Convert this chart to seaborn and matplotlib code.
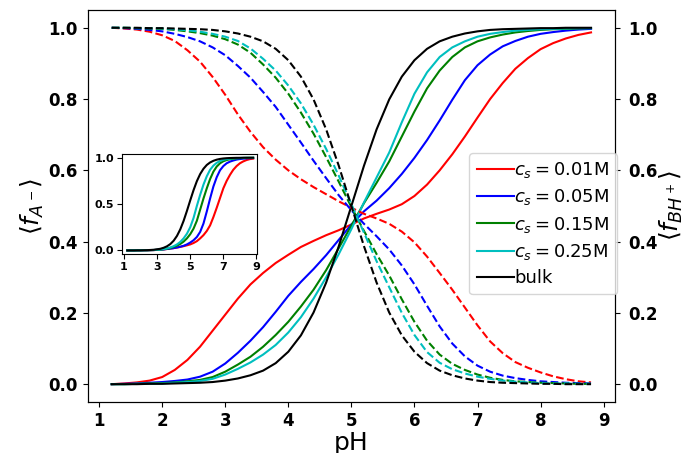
import matplotlib
matplotlib.use("Agg")
import matplotlib.pyplot as plt
import seaborn as sns

# pH grid shared by all series (1.2 ... 8.8, step 0.2)
ph = [1.2, 1.4, 1.6, 1.8, 2.0, 2.2, 2.4, 2.6, 2.8, 3.0,
      3.2, 3.4, 3.6, 3.8, 4.0, 4.2, 4.4, 4.6, 4.8, 5.0,
      5.2, 5.4, 5.6, 5.8, 6.0, 6.2, 6.4, 6.6, 6.8, 7.0,
      7.2, 7.4, 7.6, 7.8, 8.0, 8.2, 8.4, 8.6, 8.8]

labels = [r"$c_s=0.01$M", r"$c_s=0.05$M", r"$c_s=0.15$M", r"$c_s=0.25$M", "bulk"]
colors = ["r", "b", "g", "c", "k"]

# <f_A-> (solid, left axis)
fa_001 = [0.000, 0.002, 0.005, 0.010, 0.020, 0.040, 0.068, 0.105, 0.150, 0.195,
          0.240, 0.280, 0.312, 0.340, 0.363, 0.385, 0.402, 0.418, 0.432, 0.448,
          0.465, 0.478, 0.490, 0.505, 0.528, 0.560, 0.600, 0.645, 0.695, 0.748,
          0.800, 0.845, 0.885, 0.915, 0.940, 0.957, 0.970, 0.980, 0.987]
fa_005 = [0.000, 0.001, 0.002, 0.004, 0.006, 0.009, 0.013, 0.021, 0.035, 0.058,
          0.088, 0.122, 0.160, 0.203, 0.248, 0.287, 0.323, 0.362, 0.405, 0.448,
          0.485, 0.515, 0.550, 0.590, 0.635, 0.685, 0.740, 0.798, 0.853, 0.895,
          0.925, 0.948, 0.963, 0.975, 0.983, 0.988, 0.992, 0.995, 0.997]
fa_015 = [0.000, 0.000, 0.001, 0.002, 0.003, 0.005, 0.008, 0.012, 0.020, 0.035,
          0.055, 0.077, 0.105, 0.138, 0.175, 0.218, 0.265, 0.320, 0.382, 0.445,
          0.508, 0.565, 0.625, 0.695, 0.765, 0.830, 0.880, 0.918, 0.945, 0.962,
          0.973, 0.981, 0.987, 0.991, 0.994, 0.996, 0.997, 0.998, 0.999]
fa_025 = [0.000, 0.000, 0.001, 0.001, 0.002, 0.004, 0.006, 0.009, 0.015, 0.027,
          0.043, 0.061, 0.083, 0.110, 0.145, 0.188, 0.240, 0.300, 0.365, 0.435,
          0.510, 0.580, 0.650, 0.735, 0.815, 0.875, 0.918, 0.945, 0.962, 0.975,
          0.983, 0.988, 0.992, 0.994, 0.996, 0.997, 0.998, 0.999, 0.999]
fa_bulk = [0.000, 0.000, 0.000, 0.001, 0.001, 0.002, 0.003, 0.004, 0.006, 0.010,
           0.016, 0.025, 0.038, 0.059, 0.091, 0.137, 0.201, 0.285, 0.387, 0.500,
           0.613, 0.715, 0.799, 0.863, 0.909, 0.941, 0.962, 0.975, 0.984, 0.990,
           0.994, 0.996, 0.997, 0.998, 0.999, 0.999, 1.000, 1.000, 1.000]

# <f_BH+> (dashed, right axis)
fb_001 = [1.000, 0.998, 0.995, 0.989, 0.979, 0.963, 0.937, 0.905, 0.862, 0.812,
          0.757, 0.708, 0.665, 0.630, 0.600, 0.575, 0.553, 0.533, 0.513, 0.495,
          0.478, 0.465, 0.450, 0.428, 0.398, 0.358, 0.312, 0.265, 0.215, 0.165,
          0.120, 0.087, 0.062, 0.046, 0.033, 0.022, 0.014, 0.008, 0.005]
fb_005 = [1.000, 0.999, 0.997, 0.994, 0.990, 0.983, 0.974, 0.962, 0.945, 0.923,
          0.893, 0.860, 0.820, 0.778, 0.728, 0.678, 0.627, 0.578, 0.530, 0.488,
          0.450, 0.415, 0.378, 0.333, 0.280, 0.220, 0.162, 0.114, 0.078, 0.052,
          0.035, 0.024, 0.017, 0.012, 0.008, 0.006, 0.004, 0.003, 0.002]
fb_015 = [1.000, 1.000, 0.999, 0.998, 0.997, 0.994, 0.990, 0.985, 0.978, 0.968,
          0.953, 0.930, 0.897, 0.860, 0.815, 0.762, 0.703, 0.637, 0.568, 0.497,
          0.430, 0.365, 0.305, 0.238, 0.175, 0.122, 0.083, 0.057, 0.040, 0.027,
          0.018, 0.012, 0.008, 0.006, 0.004, 0.003, 0.002, 0.001, 0.001]
fb_025 = [1.000, 1.000, 0.999, 0.999, 0.998, 0.996, 0.993, 0.989, 0.983, 0.975,
          0.963, 0.942, 0.913, 0.880, 0.838, 0.788, 0.728, 0.660, 0.585, 0.505,
          0.425, 0.345, 0.272, 0.200, 0.138, 0.090, 0.060, 0.042, 0.030, 0.021,
          0.015, 0.010, 0.007, 0.005, 0.003, 0.002, 0.002, 0.001, 0.001]
fb_bulk = [1.000, 1.000, 1.000, 0.999, 0.999, 0.998, 0.997, 0.996, 0.994, 0.990,
           0.984, 0.975, 0.962, 0.941, 0.909, 0.863, 0.799, 0.715, 0.613, 0.500,
           0.387, 0.285, 0.201, 0.137, 0.091, 0.059, 0.038, 0.025, 0.016, 0.010,
           0.006, 0.004, 0.003, 0.002, 0.001, 0.001, 0.000, 0.000, 0.000]

# inset curves
in_001 = [0.000, 0.000, 0.000, 0.001, 0.001, 0.002, 0.002, 0.003, 0.004, 0.006,
          0.008, 0.011, 0.015, 0.020, 0.025, 0.031, 0.038, 0.046, 0.055, 0.065,
          0.080, 0.100, 0.130, 0.165, 0.210, 0.270, 0.360, 0.460, 0.565, 0.670,
          0.750, 0.815, 0.870, 0.910, 0.940, 0.960, 0.975, 0.985, 0.990]
in_005 = [0.000, 0.000, 0.000, 0.001, 0.001, 0.002, 0.002, 0.003, 0.004, 0.006,
          0.008, 0.011, 0.016, 0.020, 0.025, 0.032, 0.040, 0.050, 0.065, 0.085,
          0.110, 0.145, 0.200, 0.290, 0.420, 0.560, 0.690, 0.790, 0.865, 0.910,
          0.940, 0.958, 0.970, 0.980, 0.986, 0.990, 0.993, 0.995, 0.997]
in_015 = [0.000, 0.000, 0.000, 0.001, 0.001, 0.002, 0.002, 0.003, 0.004, 0.006,
          0.009, 0.013, 0.019, 0.027, 0.038, 0.052, 0.070, 0.095, 0.130, 0.175,
          0.235, 0.320, 0.440, 0.560, 0.670, 0.770, 0.850, 0.905, 0.940, 0.962,
          0.975, 0.984, 0.989, 0.993, 0.995, 0.997, 0.998, 0.999, 0.999]
in_025 = [0.000, 0.000, 0.000, 0.001, 0.001, 0.002, 0.003, 0.004, 0.005, 0.007,
          0.010, 0.015, 0.022, 0.032, 0.046, 0.065, 0.092, 0.130, 0.180, 0.250,
          0.350, 0.480, 0.600, 0.710, 0.800, 0.870, 0.915, 0.945, 0.965, 0.977,
          0.985, 0.990, 0.994, 0.996, 0.997, 0.998, 0.999, 0.999, 1.000]
in_bulk = [0.000, 0.000, 0.000, 0.001, 0.001, 0.002, 0.003, 0.005, 0.007, 0.012,
           0.018, 0.029, 0.045, 0.069, 0.105, 0.157, 0.228, 0.319, 0.426, 0.540,
           0.650, 0.747, 0.824, 0.881, 0.922, 0.949, 0.967, 0.979, 0.987, 0.992,
           0.995, 0.997, 0.998, 0.999, 0.999, 1.000, 1.000, 1.000, 1.000]

fa = [fa_001, fa_005, fa_015, fa_025, fa_bulk]
fb = [fb_001, fb_005, fb_015, fb_025, fb_bulk]
inset = [in_001, in_005, in_015, in_025, in_bulk]

fig = plt.figure(figsize=(6.91, 4.53), dpi=100)
ax = fig.add_axes([0.127, 0.1126, 0.763, 0.8654])
ax2 = ax.twinx()

for y, c, lab in zip(fa, colors, labels):
    sns.lineplot(x=ph, y=y, ax=ax, color=c, label=lab, linewidth=1.5)
for y, c in zip(fb, colors):
    sns.lineplot(x=ph, y=y, ax=ax2, color=c, linestyle="--", linewidth=1.5)

for a in (ax, ax2):
    a.set_ylim(-0.05, 1.05)
    a.set_yticks([0.0, 0.2, 0.4, 0.6, 0.8, 1.0])
    a.tick_params(labelsize=12)
    for t in a.get_xticklabels() + a.get_yticklabels():
        t.set_fontweight("bold")
ax2.tick_params(axis="y", pad=6)
ax.set_xticks(range(1, 10))
for t in ax.get_xticklabels():
    t.set_fontweight("bold")

ax.set_xlabel("pH", fontsize=18, labelpad=1)
ax.set_ylabel(r"$\langle f_{A^-} \rangle$", fontsize=18, labelpad=2)
ax2.set_ylabel(r"$\langle f_{BH^+} \rangle$", fontsize=18, labelpad=0)

handles, labs = ax.get_legend_handles_labels()
ax.get_legend().remove()
ax2.legend(handles, labs, loc="center right", bbox_to_anchor=(1.003, 0.455),
           borderaxespad=0, fontsize=13, handlelength=2.1, handletextpad=0.0,
           labelspacing=0.4)

# inset
axi = fig.add_axes([0.1766, 0.439, 0.195, 0.221])
for y, c in zip(inset, colors):
    sns.lineplot(x=ph, y=y, ax=axi, color=c, linewidth=1.5)
axi.set_xlim(0.88, 9.02)
axi.set_ylim(-0.04, 1.04)
axi.set_xticks([1, 3, 5, 7, 9])
axi.set_yticks([0.0, 0.5, 1.0])
axi.tick_params(labelsize=8, pad=2)
for t in axi.get_xticklabels() + axi.get_yticklabels():
    t.set_fontweight("bold")

fig.savefig("out.png", dpi=100)
